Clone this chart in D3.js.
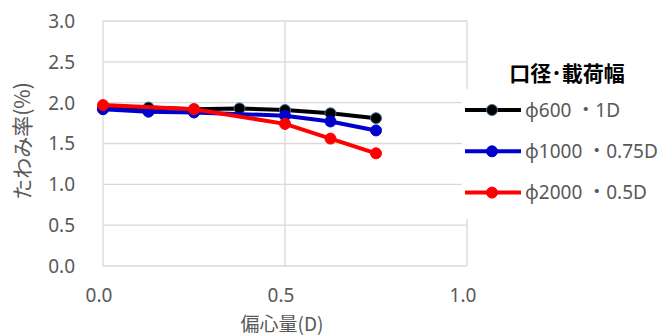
<!DOCTYPE html>
<html><head><meta charset="utf-8">
<script src="https://cdn.jsdelivr.net/npm/d3@7"></script>
<style>body{margin:0;background:#fff}svg{display:block}text{font-family:"Noto Sans","Noto Sans CJK JP",sans-serif}</style>
</head><body><svg id="c" width="672" height="336"></svg>
<script>
const xTicks=[0,0.5,1.0];
const yTicks=[0,0.5,1.0,1.5,2.0,2.5,3.0];
const seriesNames=["φ600 ・1D","φ1000 ・0.75D","φ2000 ・0.5D"];
const seriesColors=["#000000","#0000CC","#FF0000"];
const markerStroke=["#41719C","#0000CC","#FF0000"];
const blackX=[0,0.125,0.25,0.375,0.5,0.625,0.75];
const blackY=[1.93,1.94,1.92,1.93,1.91,1.87,1.81];
const blueX=[0,0.125,0.25,0.5,0.625,0.75];
const blueY=[1.92,1.89,1.88,1.84,1.77,1.66];
const redX=[0,0.25,0.5,0.625,0.75];
const redY=[1.97,1.92,1.74,1.56,1.38];
const legendTitle="口径･載荷幅";
const xTitle="偏心量(D)", yTitle="たわみ率(%)";

const svg=d3.select("#c");
const x=d3.scaleLinear().domain([0,1]).range([103,467]);
const y=d3.scaleLinear().domain([0,3]).range([266,21]);
const grid="#D9D9D9", txt="#595959";

svg.append("g").selectAll("line").data(yTicks).join("line")
 .attr("x1",x(0)).attr("x2",x(1)).attr("y1",d=>y(d)).attr("y2",d=>y(d))
 .attr("stroke",grid).attr("stroke-width",1.3);
svg.append("g").selectAll("line").data(xTicks).join("line")
 .attr("x1",d=>x(d)).attr("x2",d=>x(d)).attr("y1",y(0)).attr("y2",y(3))
 .attr("stroke",grid).attr("stroke-width",1.3);

svg.append("g").selectAll("text").data(yTicks).join("text")
 .attr("x",75).attr("y",d=>y(d)).attr("dy","0.36em").attr("text-anchor","end")
 .attr("fill",txt).attr("font-size",19).text(d=>d.toFixed(1));
svg.append("g").selectAll("text").data(xTicks).join("text")
 .attr("x",d=>x(d)-4).attr("y",302).attr("text-anchor","middle")
 .attr("fill",txt).attr("font-size",19).text(d=>d.toFixed(1));

svg.append("text").attr("x",x(0.5)-3).attr("y",331).attr("text-anchor","middle")
 .attr("fill",txt).attr("font-size",19).style("font-family","'Noto Sans CJK JP'").text(xTitle);
svg.append("text").attr("transform","translate(30,141) rotate(-90)").attr("text-anchor","middle")
 .attr("fill",txt).attr("font-size",21).style("font-family","'Noto Sans CJK JP'").text(yTitle);

const data=[[blackX,blackY],[blueX,blueY],[redX,redY]];
const line=d3.line().x(d=>x(d[0])).y(d=>y(d[1]));
data.forEach((s,i)=>{
  const pts=s[0].map((v,k)=>[v,s[1][k]]);
  svg.append("path").attr("d",line(pts)).attr("fill","none")
   .attr("stroke",seriesColors[i]).attr("stroke-width",4).attr("stroke-linejoin","round");
  svg.append("g").selectAll("circle").data(pts).join("circle")
   .attr("cx",d=>x(d[0])).attr("cy",d=>y(d[1])).attr("r",5.5)
   .attr("fill",seriesColors[i]).attr("stroke",markerStroke[i]).attr("stroke-width",1);
});

// legend
svg.append("rect").attr("x",462).attr("y",89).attr("width",210).attr("height",130).attr("fill","#fff");
svg.append("text").attr("x",567).attr("y",81).attr("text-anchor","middle")
 .attr("font-size",21).attr("font-weight","bold").attr("fill","#000").style("font-family","'Noto Sans CJK JP'").text(legendTitle);
seriesNames.forEach((n,i)=>{
  const ly=110+i*41.3;
  svg.append("line").attr("x1",465).attr("x2",521).attr("y1",ly).attr("y2",ly)
   .attr("stroke",seriesColors[i]).attr("stroke-width",4);
  svg.append("circle").attr("cx",492).attr("cy",ly).attr("r",5.5)
   .attr("fill",seriesColors[i]).attr("stroke",markerStroke[i]).attr("stroke-width",1);
  svg.append("text").attr("x",525).attr("y",ly).attr("dy","0.36em")
   .attr("font-size",19).attr("fill",txt).text(n);
});
</script></body></html>
